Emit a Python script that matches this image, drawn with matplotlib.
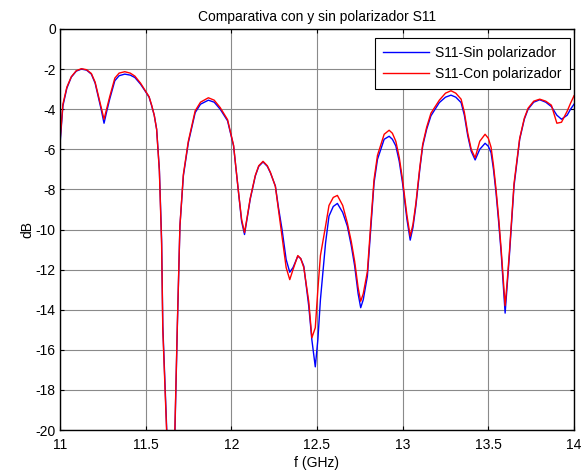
import numpy as np
import matplotlib
matplotlib.use("Agg")
import matplotlib.pyplot as plt

plt.rcParams['font.family'] = ['Liberation Sans', 'DejaVu Sans']
plt.rcParams['axes.unicode_minus'] = False

# frecuencia (GHz)
freq = [11.000, 11.017, 11.040, 11.066, 11.095, 11.125, 11.155, 11.183, 11.205, 11.222,
        11.240, 11.257, 11.273, 11.290, 11.320, 11.345, 11.378, 11.410, 11.437, 11.470,
        11.496, 11.520, 11.535, 11.550, 11.564, 11.580, 11.593, 11.600, 11.623, 11.647,
        11.671, 11.685, 11.700, 11.720, 11.749, 11.789, 11.820, 11.866, 11.900, 11.935,
        11.978, 12.013, 12.042, 12.060, 12.077, 12.095, 12.110, 12.140, 12.160, 12.185,
        12.210, 12.228, 12.257, 12.275, 12.296, 12.320, 12.341, 12.360, 12.388, 12.405,
        12.423, 12.452, 12.470, 12.490, 12.505, 12.520, 12.550, 12.570, 12.595, 12.619,
        12.650, 12.677, 12.700, 12.720, 12.740, 12.755, 12.770, 12.794, 12.814, 12.833,
        12.853, 12.892, 12.921, 12.940, 12.960, 12.980, 12.999, 13.025, 13.044, 13.060,
        13.077, 13.100, 13.117, 13.140, 13.165, 13.214, 13.250, 13.282, 13.310, 13.341,
        13.360, 13.380, 13.400, 13.423, 13.450, 13.481, 13.500, 13.516, 13.530, 13.545,
        13.560, 13.575, 13.598, 13.610, 13.624, 13.650, 13.683, 13.710, 13.732, 13.765,
        13.800, 13.835, 13.868, 13.900, 13.927, 13.960, 13.980, 14.000]

# S11 sin polarizador (dB)
s11_sin = [-5.75, -3.83, -2.95, -2.40, -2.10, -2.00, -2.05, -2.25, -2.70, -3.33,
           -4.00, -4.70, -4.10, -3.50, -2.58, -2.33, -2.25, -2.30, -2.42, -2.75,
           -3.08, -3.40, -3.83, -4.30, -5.00, -7.00, -10.50, -14.80, -20.0, -27.0,
           -20.0, -14.8, -9.83, -7.33, -5.67, -4.17, -3.75, -3.55, -3.65, -4.00,
           -4.58, -5.83, -8.17, -9.6, -10.25, -9.3, -8.50, -7.33, -6.85, -6.63,
           -6.85, -7.17, -7.83, -8.9, -10.0, -11.5, -12.13, -11.9, -11.33, -11.45,
           -11.83, -13.83, -15.5, -16.85, -15.5, -13.5, -10.67, -9.33, -8.85, -8.70,
           -9.15, -9.83, -10.8, -11.83, -13.2, -13.9, -13.5, -12.33, -9.9, -7.67,
           -6.5, -5.5, -5.35, -5.5, -5.83, -6.6, -7.67, -9.5, -10.53, -9.9,
           -8.83, -7.0, -5.83, -5.0, -4.33, -3.67, -3.4, -3.30, -3.4, -3.67,
           -4.3, -5.33, -6.1, -6.53, -6.0, -5.70, -5.85, -6.17, -7.0, -8.17,
           -9.6, -11.17, -14.17, -12.8, -11.17, -7.83, -5.50, -4.5, -4.00, -3.65,
           -3.53, -3.65, -3.87, -4.3, -4.50, -4.3, -4.0, -3.75]

# S11 con polarizador (dB)
s11_con = [-5.6, -3.75, -2.9, -2.38, -2.08, -1.98, -2.03, -2.22, -2.65, -3.25,
           -3.9, -4.5, -3.95, -3.38, -2.45, -2.2, -2.13, -2.2, -2.35, -2.7,
           -3.05, -3.38, -3.8, -4.3, -5.0, -7.1, -10.7, -15.0, -20.2, -27.0,
           -19.8, -14.7, -9.8, -7.25, -5.6, -4.08, -3.65, -3.43, -3.55, -3.92,
           -4.52, -5.8, -8.15, -9.5, -10.15, -9.25, -8.45, -7.3, -6.82, -6.6,
           -6.82, -7.15, -7.85, -9.0, -10.3, -11.9, -12.5, -12.0, -11.3, -11.45,
           -11.9, -13.6, -15.4, -14.9, -13.0, -11.3, -9.83, -8.8, -8.4, -8.3,
           -8.8, -9.67, -10.6, -11.6, -12.9, -13.58, -13.2, -12.1, -9.7, -7.5,
           -6.3, -5.25, -5.05, -5.2, -5.6, -6.4, -7.5, -9.3, -10.33, -9.75,
           -8.7, -6.9, -5.75, -4.9, -4.2, -3.55, -3.2, -3.08, -3.2, -3.5,
           -4.15, -5.2, -6.0, -6.42, -5.6, -5.25, -5.45, -5.9, -6.8, -8.0,
           -9.4, -11.0, -13.8, -12.6, -11.0, -7.7, -5.45, -4.45, -3.95, -3.6,
           -3.5, -3.6, -3.8, -4.7, -4.65, -4.1, -3.7, -3.33]

xticks = [11, 11.5, 12, 12.5, 13, 13.5, 14]
xtick_labels = ['11', '11.5', '12', '12.5', '13', '13.5', '14']
yticks = [0, -2, -4, -6, -8, -10, -12, -14, -16, -18, -20]

fig = plt.figure(figsize=(5.82, 4.75), dpi=100)
ax = fig.add_axes([60 / 582, 45 / 475, 514 / 582, 401 / 475])

ax.plot(freq, s11_sin, color='blue', lw=1.0, label='S11-Sin polarizador')
ax.plot(freq, s11_con, color='red', lw=1.0, label='S11-Con polarizador')

ax.set_xlim(11, 14)
ax.set_ylim(-20, 0)
ax.set_xticks(xticks)
ax.set_xticklabels(xtick_labels)
ax.set_yticks(yticks)
ax.tick_params(direction='in', top=True, right=True, labelsize=10, length=3, width=0.8)
ax.tick_params(axis='x', pad=5.5)
ax.tick_params(axis='y', pad=3)
ax.grid(True, color='#8a8a8a', lw=0.8)
for sp in ax.spines.values():
    sp.set_linewidth(1.0)

ax.set_title('Comparativa con y sin polarizador S11', fontsize=10, pad=6)
ax.set_xlabel('f (GHz)', fontsize=10, labelpad=3)
ax.set_ylabel('dB', fontsize=10, labelpad=1)

leg = ax.legend(loc='upper right', bbox_to_anchor=(510 / 514, 392 / 401),
                fontsize=10, fancybox=False, framealpha=1, edgecolor='black',
                borderaxespad=0, handlelength=3.3, handletextpad=0.45,
                borderpad=0.58, labelspacing=0.5)
leg.get_frame().set_linewidth(0.8)

fig.savefig('out.png', dpi=100)
